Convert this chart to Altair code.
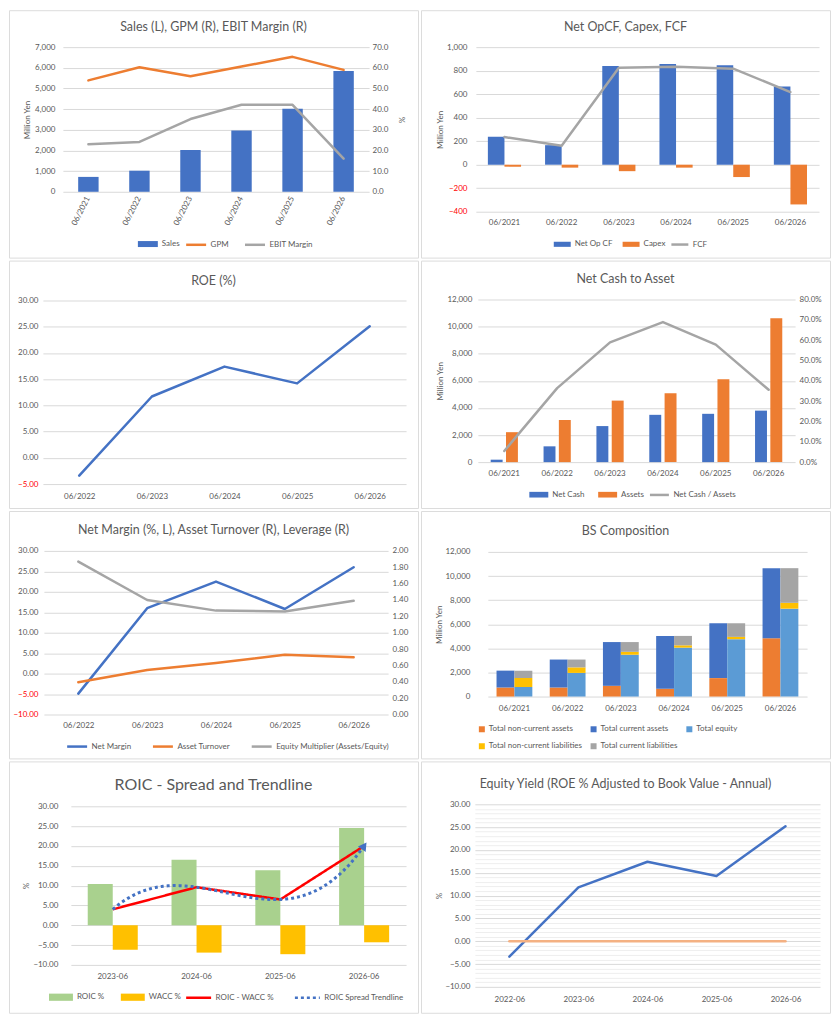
import altair as alt
import pandas as pd

# ---------------- data ----------------
YEARS6 = ["06/2021", "06/2022", "06/2023", "06/2024", "06/2025", "06/2026"]
YEARS5 = ["06/2022", "06/2023", "06/2024", "06/2025", "06/2026"]
ROIC_YEARS = ["2023-06", "2024-06", "2025-06", "2026-06"]
EY_YEARS = ["2022-06", "2023-06", "2024-06", "2025-06", "2026-06"]

SALES = [720, 1020, 2020, 2960, 4020, 5850]
GPM = [53.9, 60.3, 55.9, 60.6, 65.3, 59.0]
EBIT_MARGIN = [23.0, 24.1, 35.2, 42.1, 42.1, 16.0]

NET_OP_CF = [238, 166, 839, 856, 845, 665]
CAPEX = [-17, -25, -55, -25, -105, -338]
FCF = [235, 161, 825, 834, 817, 618]

ROE = [-3.4, 11.7, 17.4, 14.2, 25.1]

NET_CASH = [180, 1165, 2660, 3490, 3565, 3800]
ASSETS = [2210, 3110, 4540, 5085, 6110, 10620]
NET_CASH_TO_ASSETS = [5.5, 36.4, 58.9, 68.9, 57.8, 35.6]

NET_MARGIN = [-4.9, 16.0, 22.5, 15.8, 26.0]
ASSET_TURNOVER = [0.395, 0.545, 0.63, 0.73, 0.70]
EQUITY_MULTIPLIER = [1.87, 1.40, 1.27, 1.26, 1.39]

BS_COMPONENTS = ["Total non-current assets", "Total current assets", "Total equity",
                 "Total non-current liabilities", "Total current liabilities"]
BS_SIDES = ["Assets", "Assets", "Liabilities & Equity", "Liabilities & Equity", "Liabilities & Equity"]
NON_CURRENT_ASSETS = [750, 750, 890, 650, 1530, 4840]
CURRENT_ASSETS = [1400, 2320, 3630, 4380, 4550, 5810]
TOTAL_EQUITY = [800, 1960, 3470, 4060, 4760, 7290]
NON_CURRENT_LIAB = [730, 460, 240, 190, 190, 485]
CURRENT_LIAB = [620, 650, 810, 780, 1130, 2875]

ROIC = [10.4, 16.5, 13.9, 24.5]
WACC = [-6.2, -6.9, -7.3, -4.3]
ROIC_SPREAD = [4.0, 9.6, 6.5, 20.0]

EQUITY_YIELD = [-3.4, 11.8, 17.4, 14.3, 25.2]
EY_ZERO_LINE = [0, 0, 0, 0, 0]

# axis tick values
TICKS_SALES = [0, 1000, 2000, 3000, 4000, 5000, 6000, 7000]
TICKS_PCT70 = [0, 10, 20, 30, 40, 50, 60, 70]
TICKS_CF = [-400, -200, 0, 200, 400, 600, 800, 1000]
TICKS_ROE = [-5, 0, 5, 10, 15, 20, 25, 30]
TICKS_12K = [0, 2000, 4000, 6000, 8000, 10000, 12000]
TICKS_PCT80 = [0, 10, 20, 30, 40, 50, 60, 70, 80]
TICKS_M30 = [-10, -5, 0, 5, 10, 15, 20, 25, 30]
TICKS_X2 = [0.0, 0.2, 0.4, 0.6, 0.8, 1.0, 1.2, 1.4, 1.6, 1.8, 2.0]
TICKS_EY = list(range(-10, 31))

# ---------------- style ----------------
FONT = "Lato"
TXT = "#595959"
GRID = "#d9d9d9"
MINOR = "#eeeeee"
BORDER = "#dcdcdc"
BLUE = "#4472C4"
ORANGE = "#ED7D31"
GRAY = "#A5A5A5"
YELLOW = "#FFC000"
LBLUE = "#5B9BD5"
GREEN = "#A9D18E"
RED = "#FF0000"
LORANGE = "#F4B183"
RECT_PATH = "M-1,-0.3H1V0.3H-1Z"
RED_NEG = {"condition": {"test": "datum.value < 0", "value": RED}, "value": TXT}

# every panel is a card of CW x CH; the plot region inside is placed via scale ranges
CW = 410
ROW_H = [248, 248, 248, 252]
SX = CW / 419.0
SY = 248 / 255.0


def geom(xl, xr, yt, yb, ch):
    L = round(xl * SX)
    w = round(xr * SX) - L
    T = round(yt * SY)
    h = round(yb * SY) - T
    return dict(L=L, T=T, w=w, h=h, R=CW - L - w, B=ch - T - h, CH=ch)


def xscale(g, **kw):
    return alt.Scale(range=[g["L"], g["L"] + g["w"]], **kw)


def yscale(g, domain):
    return alt.Scale(domain=domain, nice=False, range=[g["T"] + g["h"], g["T"]])


def ttl(text, c, size=12.5):
    return alt.TitleParams(text, fontSize=size, anchor="middle",
                           offset=-round(c * SY + 0.56 * size, 1))


def lg(x_ref, yc_ref, sym, size, **kw):
    return alt.Legend(
        orient="none", direction="horizontal", title=None,
        legendX=round(x_ref * SX, 1),
        legendY=round(yc_ref * SY - size ** 0.5 / 2, 1),
        symbolType=sym, symbolSize=size, labelOffset=3, **kw)


def props(g, title):
    return dict(width=CW, height=g["CH"], title=title)


LINE = dict(strokeWidth=2.5, strokeJoin="round", strokeCap="round")
INDEP = dict(color="independent", stroke="independent", strokeDash="independent",
             xOffset="independent", x="independent", y="independent")

# ---------------- panel 1: Sales, GPM, EBIT margin ----------------
g1 = geom(55, 369, 38, 187, ROW_H[0])
df1 = pd.DataFrame({"year": YEARS6, "Sales": SALES, "GPM": GPM, "EBIT Margin": EBIT_MARGIN})
x1 = alt.X("year:N", sort=YEARS6, title=None,
           scale=xscale(g1, paddingInner=0.6, paddingOuter=0.3),
           axis=alt.Axis(labelAngle=-63, labelPadding=5, offset=-g1["B"]))
bars1 = alt.Chart(df1).transform_fold(["Sales"], as_=["series", "value"]).mark_bar().encode(
    x=x1,
    y=alt.Y("value:Q", scale=yscale(g1, [0, 7000]),
            axis=alt.Axis(values=TICKS_SALES, format=",d", title="Million Yen",
                          labelPadding=8, titlePadding=3, offset=-g1["L"])),
    color=alt.Color("series:N", scale=alt.Scale(domain=["Sales"], range=[BLUE]),
                    legend=lg(131, 240, RECT_PATH, 400)),
)
lines1 = alt.Chart(df1).transform_fold(["GPM", "EBIT Margin"], as_=["series", "value"]).mark_line(**LINE).encode(
    x=x1,
    y=alt.Y("value:Q", scale=yscale(g1, [0, 70]),
            axis=alt.Axis(values=TICKS_PCT70, format=".1f", title="%", orient="right",
                          grid=False, labelPadding=3, titlePadding=9, offset=-g1["R"])),
    stroke=alt.Stroke("series:N", scale=alt.Scale(domain=["GPM", "EBIT Margin"], range=[ORANGE, GRAY]),
                      legend=lg(180, 240, "stroke", 400, symbolStrokeWidth=2.5, columnPadding=10)),
)
p1 = alt.layer(bars1, lines1).resolve_scale(y="independent").properties(
    **props(g1, ttl("Sales (L), GPM (R), EBIT Margin (R)", 17)))

# ---------------- panel 2: Net OpCF, Capex, FCF ----------------
g2 = geom(55.7, 407.3, 38, 207.5, ROW_H[0])
df2 = pd.DataFrame({"year": YEARS6, "Net Op CF": NET_OP_CF, "Capex": CAPEX, "FCF": FCF})
x2 = alt.X("year:N", sort=YEARS6, title=None,
           scale=xscale(g2, paddingInner=0.42, paddingOuter=0.21),
           axis=alt.Axis(labelAngle=0, labelPadding=7, offset=-g2["B"]))
y2 = alt.Y("value:Q", scale=yscale(g2, [-400, 1000]),
           axis=alt.Axis(values=TICKS_CF, format=",d", title="Million Yen", labelColor=RED_NEG,
                         labelPadding=9, titlePadding=2, offset=-g2["L"]))
bars2 = alt.Chart(df2).transform_fold(["Net Op CF", "Capex"], as_=["series", "value"]).mark_bar().encode(
    x=x2, y=y2,
    xOffset=alt.XOffset("series:N", sort=["Net Op CF", "Capex"], scale=alt.Scale(paddingInner=0)),
    color=alt.Color("series:N", scale=alt.Scale(domain=["Net Op CF", "Capex"], range=[BLUE, ORANGE]),
                    legend=lg(135, 240, RECT_PATH, 289, columnPadding=9)),
)
line2 = alt.Chart(df2).transform_fold(["FCF"], as_=["series", "value"]).mark_line(**LINE).encode(
    x=x2, y=y2,
    stroke=alt.Stroke("series:N", scale=alt.Scale(domain=["FCF"], range=[GRAY]),
                      legend=lg(255, 240, "stroke", 289, symbolStrokeWidth=2.5)),
)
p2 = alt.layer(bars2, line2).properties(**props(g2, ttl("Net OpCF, Capex, FCF", 17)))

# ---------------- panel 3: ROE ----------------
g3 = geom(35, 407, 40.7, 230.7, ROW_H[1])
df3 = pd.DataFrame({"year": YEARS5, "ROE": ROE})
p3 = alt.Chart(df3).mark_line(color=BLUE, **LINE).encode(
    x=alt.X("year:N", sort=YEARS5, title=None, scale=xscale(g3, type="point", padding=0.5),
            axis=alt.Axis(labelAngle=0, labelPadding=8, offset=-g3["B"])),
    y=alt.Y("ROE:Q", scale=yscale(g3, [-5, 30]), title=None,
            axis=alt.Axis(values=TICKS_ROE, format=".2f", labelColor=RED_NEG, labelPadding=5,
                          offset=-g3["L"])),
).properties(**props(g3, ttl("ROE (%)", 20)))

# ---------------- panel 4: Net cash to asset ----------------
g4 = geom(58, 383, 40, 208, ROW_H[1])
df4 = pd.DataFrame({"year": YEARS6, "Net Cash": NET_CASH, "Assets": ASSETS,
                    "Net Cash / Assets": NET_CASH_TO_ASSETS})
x4 = alt.X("year:N", sort=YEARS6, title=None,
           scale=xscale(g4, paddingInner=0.485, paddingOuter=0.2425),
           axis=alt.Axis(labelAngle=0, labelPadding=7, offset=-g4["B"]))
bars4 = alt.Chart(df4).transform_fold(["Net Cash", "Assets"], as_=["series", "value"]).mark_bar().encode(
    x=x4,
    xOffset=alt.XOffset("series:N", sort=["Net Cash", "Assets"], scale=alt.Scale(paddingInner=0.22)),
    y=alt.Y("value:Q", scale=yscale(g4, [0, 12000]),
            axis=alt.Axis(values=TICKS_12K, format=",d", title="Million Yen",
                          labelPadding=6, titlePadding=2, offset=-g4["L"])),
    color=alt.Color("series:N", scale=alt.Scale(domain=["Net Cash", "Assets"], range=[BLUE, ORANGE]),
                    legend=lg(110, 240, RECT_PATH, 361, columnPadding=12)),
)
line4 = alt.Chart(df4).transform_fold(["Net Cash / Assets"], as_=["series", "value"]).mark_line(**LINE).encode(
    x=x4,
    y=alt.Y("value:Q", scale=yscale(g4, [0, 80]),
            axis=alt.Axis(values=TICKS_PCT80, labelExpr="format(datum.value, '.1f') + '%'",
                          title=None, orient="right", grid=False, labelPadding=4, offset=-g4["R"])),
    stroke=alt.Stroke("series:N", scale=alt.Scale(domain=["Net Cash / Assets"], range=[GRAY]),
                      legend=lg(233, 240, "stroke", 361, symbolStrokeWidth=2.5)),
)
p4 = alt.layer(bars4, line4).resolve_scale(y="independent").properties(
    **props(g4, ttl("Net Cash to Asset", 18)))

# ---------------- panel 5: Net margin, asset turnover, leverage ----------------
g5 = geom(36, 388, 40.7, 209.3, ROW_H[2])
S5 = ["Net Margin", "Asset Turnover", "Equity Multiplier (Assets/Equity)"]
df5 = pd.DataFrame({"year": YEARS5, S5[0]: NET_MARGIN, S5[1]: ASSET_TURNOVER, S5[2]: EQUITY_MULTIPLIER})
x5 = alt.X("year:N", sort=YEARS5, title=None, scale=xscale(g5, type="point", padding=0.5),
           axis=alt.Axis(labelAngle=0, labelPadding=7, offset=-g5["B"]))
stroke5 = alt.Stroke("series:N", scale=alt.Scale(domain=S5, range=[BLUE, ORANGE, GRAY]),
                     legend=lg(58, 241, "stroke", 400, symbolStrokeWidth=2.5, columnPadding=16))
left5 = alt.Chart(df5).transform_fold([S5[0]], as_=["series", "value"]).mark_line(**LINE).encode(
    x=x5,
    y=alt.Y("value:Q", scale=yscale(g5, [-10, 30]), title=None,
            axis=alt.Axis(values=TICKS_M30, format=".2f", labelColor=RED_NEG, labelPadding=6,
                          offset=-g5["L"])),
    stroke=stroke5,
)
right5 = alt.Chart(df5).transform_fold(S5[1:], as_=["series", "value"]).mark_line(**LINE).encode(
    x=x5,
    y=alt.Y("value:Q", scale=yscale(g5, [0, 2]), title=None,
            axis=alt.Axis(values=TICKS_X2, format=".2f", orient="right", grid=False, labelPadding=4,
                          offset=-g5["R"])),
    stroke=stroke5,
)
p5 = alt.layer(left5, right5).resolve_scale(y="independent").properties(
    **props(g5, ttl("Net Margin (%, L), Asset Turnover (R), Leverage (R)", 19)))

# ---------------- panel 6: BS composition ----------------
g6 = geom(68.5, 395, 42, 191, ROW_H[2])
BS_VALUES = [NON_CURRENT_ASSETS, CURRENT_ASSETS, TOTAL_EQUITY, NON_CURRENT_LIAB, CURRENT_LIAB]
rows6 = []
for k, (comp, side, vals) in enumerate(zip(BS_COMPONENTS, BS_SIDES, BS_VALUES)):
    for yr, v in zip(YEARS6, vals):
        rows6.append({"year": yr, "side": side, "component": comp, "order": k, "value": v})
df6 = pd.DataFrame(rows6)
p6 = alt.Chart(df6).transform_stack(
    stack="value", groupby=["year", "side"], as_=["y0", "y1"],
    sort=[alt.SortField("order", order="ascending")],
).mark_bar().encode(
    x=alt.X("year:N", sort=YEARS6, title=None,
            scale=xscale(g6, paddingInner=0.327, paddingOuter=0.1635),
            axis=alt.Axis(labelAngle=0, labelPadding=8, offset=-g6["B"])),
    xOffset=alt.XOffset("side:N", sort=["Assets", "Liabilities & Equity"], scale=alt.Scale(paddingInner=0)),
    y=alt.Y("y0:Q", scale=yscale(g6, [0, 12000]),
            axis=alt.Axis(values=TICKS_12K, format=",d", title="Million Yen",
                          labelPadding=18, titlePadding=1, offset=-g6["L"])),
    y2="y1:Q",
    color=alt.Color("component:N",
                    scale=alt.Scale(domain=BS_COMPONENTS, range=[ORANGE, BLUE, LBLUE, YELLOW, GRAY]),
                    legend=alt.Legend(orient="none", direction="horizontal", title=None, columns=3,
                                      legendX=round(58.3 * SX, 1), legendY=round(225 * SY - 4, 1),
                                      symbolType="square", symbolSize=36, labelOffset=3,
                                      columnPadding=7, rowPadding=9)),
).properties(**props(g6, ttl("BS Composition", 20)))

# ---------------- panel 7: ROIC spread and trendline ----------------
g7 = geom(63, 407, 46.7, 210, ROW_H[3])
S7 = ["ROIC - WACC %", "ROIC Spread Trendline"]
df7 = pd.DataFrame({"year": ROIC_YEARS, "idx": list(range(len(ROIC_YEARS))),
                    "ROIC %": ROIC, "WACC %": WACC, "ROIC - WACC %": ROIC_SPREAD})
x7 = alt.X("year:N", sort=ROIC_YEARS, title=None,
           scale=xscale(g7, paddingInner=0.403, paddingOuter=0.2015),
           axis=alt.Axis(labelAngle=0, labelPadding=8, offset=-g7["B"]))
xq7 = alt.X("idx:Q", scale=xscale(g7, domain=[-0.5, len(ROIC_YEARS) - 0.5], nice=False, zero=False),
            axis=None)
y7 = alt.Y("value:Q", scale=yscale(g7, [-10, 30]),
           axis=alt.Axis(values=TICKS_M30, format=".2f", title="%", labelPadding=13, titlePadding=2,
                         offset=-g7["L"]))
leg7 = lg(180, 242, "stroke", 625, symbolStrokeWidth=2.5, columnPadding=15)
stroke7 = alt.Stroke("series:N", scale=alt.Scale(domain=S7, range=[RED, BLUE]), legend=leg7)
dash7 = alt.StrokeDash("series:N", scale=alt.Scale(domain=S7, range=[[1, 0], [3, 3]]), legend=leg7)
bars7 = alt.Chart(df7).transform_fold(["ROIC %", "WACC %"], as_=["series", "value"]).mark_bar().encode(
    x=x7, y=y7,
    xOffset=alt.XOffset("series:N", sort=["ROIC %", "WACC %"], scale=alt.Scale(paddingInner=0)),
    color=alt.Color("series:N", scale=alt.Scale(domain=["ROIC %", "WACC %"], range=[GREEN, YELLOW]),
                    legend=lg(40, 242, RECT_PATH, 576, columnPadding=15)),
)
line7 = alt.Chart(df7).transform_fold(["ROIC - WACC %"], as_=["series", "value"]).mark_line(
    strokeWidth=2.5, strokeJoin="round").encode(x=x7, y=y7, stroke=stroke7, strokeDash=dash7)
trend7 = alt.Chart(df7).transform_fold(["ROIC - WACC %"], as_=["series", "value"]).transform_regression(
    on="idx", regression="value", method="poly", order=3
).transform_calculate(series="'ROIC Spread Trendline'").mark_line(strokeWidth=3).encode(
    x=xq7, y=y7, stroke=stroke7, strokeDash=dash7)
arrow7 = alt.Chart(df7).transform_fold(["ROIC - WACC %"], as_=["series", "value"]).transform_joinaggregate(
    last="max(idx)").transform_filter("datum.idx == datum.last").mark_point(
    shape="triangle-up", filled=True, size=90, angle=35, color=BLUE, opacity=1).encode(x=xq7, y=y7)
p7 = alt.layer(alt.layer(bars7, line7), alt.layer(trend7, arrow7)).resolve_scale(
    x="independent").properties(**props(g7, ttl("ROIC - Spread and Trendline", 23, 16)))

# ---------------- panel 8: Equity yield ----------------
g8 = geom(55, 409, 44, 232.7, ROW_H[3])
S8 = ["Equity Yield", "Zero line"]
df8 = pd.DataFrame({"year": EY_YEARS, S8[0]: EQUITY_YIELD, S8[1]: EY_ZERO_LINE})
p8 = alt.Chart(df8).transform_fold(S8, as_=["series", "value"]).mark_line(**LINE).encode(
    x=alt.X("year:N", sort=EY_YEARS, title=None, scale=xscale(g8, type="point", padding=0.5),
            axis=alt.Axis(labelAngle=0, labelPadding=9, offset=-g8["B"])),
    y=alt.Y("value:Q", scale=yscale(g8, [-10, 30]),
            axis=alt.Axis(values=TICKS_EY, title="%", labelOverlap=False,
                          labelExpr="datum.value % 5 === 0 ? format(datum.value, '.2f') : ''",
                          gridColor={"condition": {"test": "datum.value % 5 === 0", "value": GRID},
                                     "value": MINOR},
                          labelPadding=5, titlePadding=1, offset=-g8["L"])),
    stroke=alt.Stroke("series:N", scale=alt.Scale(domain=S8, range=[BLUE, LORANGE]), legend=None),
).properties(**props(g8, ttl("Equity Yield (ROE % Adjusted to Book Value - Annual)", 23)))

# ---------------- assemble: 2-column grid of equal cards ----------------
chart = alt.ConcatChart(
    concat=[p1, p2, p3, p4, p5, p6, p7, p8], columns=2, spacing=1,
).resolve_scale(**INDEP).resolve_legend(
    color="independent", stroke="independent", strokeDash="independent"
).properties(padding=0, background="white").configure(font=FONT).configure_view(
    stroke=BORDER, strokeWidth=1
).configure_axis(
    labelFont=FONT, labelFontSize=8, labelColor=TXT, titleFont=FONT, titleFontSize=8,
    titleFontWeight="normal", titleColor=TXT, domain=False, ticks=False,
    gridColor=GRID, gridWidth=1,
).configure_axisX(grid=False).configure_legend(
    labelFont=FONT, labelFontSize=8, labelColor=TXT,
).configure_title(font=FONT, fontWeight="normal", color=TXT)

chart.save("out.html", embed_options={"renderer": "svg", "actions": False})
